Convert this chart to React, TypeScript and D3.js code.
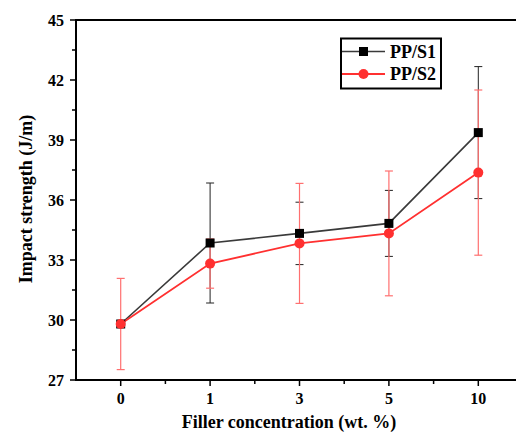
import React from "react";
import * as d3 from "d3";

const categories = ["0", "1", "3", "5", "10"];
const s1Values = [29.8, 33.85, 34.33, 34.83, 39.37];
const s1Errors = [0, 3.0, 1.56, 1.65, 3.3];
const s2Values = [29.8, 32.82, 33.83, 34.33, 37.37];
const s2Errors = [2.28, 1.23, 3.0, 3.12, 4.13];
const yTicks = [27, 30, 33, 36, 39, 42, 45];
const yMinorTicks = [28.5, 31.5, 34.5, 37.5, 40.5, 43.5];

const W = 516, H = 433;
const L = 76, R = 523, T = 20, B = 380;

export default function App() {
  const x = d3.scalePoint<string>().domain(categories).range([L, R]).padding(0.5);
  const y = d3.scaleLinear().domain([27, 45]).range([B, T]);
  const step = x.step();
  const minorX = categories.slice(0, -1).map((c) => (x(c) as number) + step / 2);
  const fam = '"Liberation Serif", "Times New Roman", serif';
  const line = d3
    .line<number>()
    .x((_, i) => x(categories[i]) as number)
    .y((d) => y(d));

  const black = "#3a3a3a";
  const red = "#ff3030";
  const redLight = "#ff7070";

  const errBars = (vals: number[], errs: number[], color: string, sw: number) =>
    vals.map((v, i) => {
      const cx = x(categories[i]) as number;
      if (!errs[i]) return null;
      const y1 = y(v + errs[i]);
      const y2 = y(v - errs[i]);
      return (
        <g key={i} stroke={color} strokeWidth={sw}>
          <line x1={cx} x2={cx} y1={y1} y2={y2} />
          <line x1={cx - 4} x2={cx + 4} y1={y1} y2={y1} />
          <line x1={cx - 4} x2={cx + 4} y1={y2} y2={y2} />
        </g>
      );
    });

  return (
    <svg width={W} height={H} style={{ position: "absolute", left: 0, top: 0, background: "#fff" }}>
      <g fontFamily={fam} fontWeight="bold">
        {errBars(s1Values, s1Errors, "#222", 1)}
        {errBars(s2Values, s2Errors, redLight, 1.2)}
        <path d={line(s1Values) || ""} fill="none" stroke={black} strokeWidth={1.6} />
        <path d={line(s2Values) || ""} fill="none" stroke={red} strokeWidth={1.8} />
        {s1Values.map((v, i) => (
          <rect key={i} x={(x(categories[i]) as number) - 4.5} y={y(v) - 4.5} width={9} height={9} fill="#000" />
        ))}
        {s2Values.map((v, i) => (
          <circle key={i} cx={x(categories[i]) as number} cy={y(v)} r={5} fill={red} />
        ))}
        <line x1={L} x2={R + 2} y1={T} y2={T} stroke="#000" strokeWidth={2} />
        <line x1={L} x2={L} y1={T - 1} y2={B + 1} stroke="#000" strokeWidth={2} />
        <line x1={L - 1} x2={R + 2} y1={B} y2={B} stroke="#000" strokeWidth={2} />
        {yTicks.map((t) => (
          <g key={t}>
            <line x1={L - 6} x2={L} y1={y(t)} y2={y(t)} stroke="#000" strokeWidth={1.5} />
            <text x={64} y={y(t)} dy="0.35em" textAnchor="end" fontSize={16}>
              {t}
            </text>
          </g>
        ))}
        {yMinorTicks.map((t) => (
          <line key={t} x1={L - 4} x2={L} y1={y(t)} y2={y(t)} stroke="#000" strokeWidth={1.5} />
        ))}
        {categories.map((c) => (
          <g key={c}>
            <line x1={x(c) as number} x2={x(c) as number} y1={B} y2={B + 6} stroke="#000" strokeWidth={1.5} />
            <text x={x(c) as number} y={404} textAnchor="middle" fontSize={16}>
              {c}
            </text>
          </g>
        ))}
        {minorX.map((mx, i) => (
          <line key={i} x1={mx} x2={mx} y1={B} y2={B + 4} stroke="#000" strokeWidth={1.5} />
        ))}
        <text x={289} y={428} textAnchor="middle" fontSize={18}>
          Filler concentration (wt. %)
        </text>
        <text transform={`translate(32, ${(T + B) / 2 - 1}) rotate(-90)`} textAnchor="middle" fontSize={18}>
          Impact strength (J/m)
        </text>
        <rect x={341} y={38.5} width={100} height={50} fill="#fff" stroke="#000" strokeWidth={2} />
        <line x1={342} x2={385} y1={51.5} y2={51.5} stroke={black} strokeWidth={1.6} />
        <rect x={359} y={47} width={9} height={9} fill="#000" />
        <text x={390} y={51.5} dy="0.35em" fontSize={18}>
          PP/S1
        </text>
        <line x1={342} x2={385} y1={74} y2={74} stroke={red} strokeWidth={1.8} />
        <circle cx={363.5} cy={74} r={5} fill={red} />
        <text x={390} y={74} dy="0.35em" fontSize={18}>
          PP/S2
        </text>
      </g>
    </svg>
  );
}
